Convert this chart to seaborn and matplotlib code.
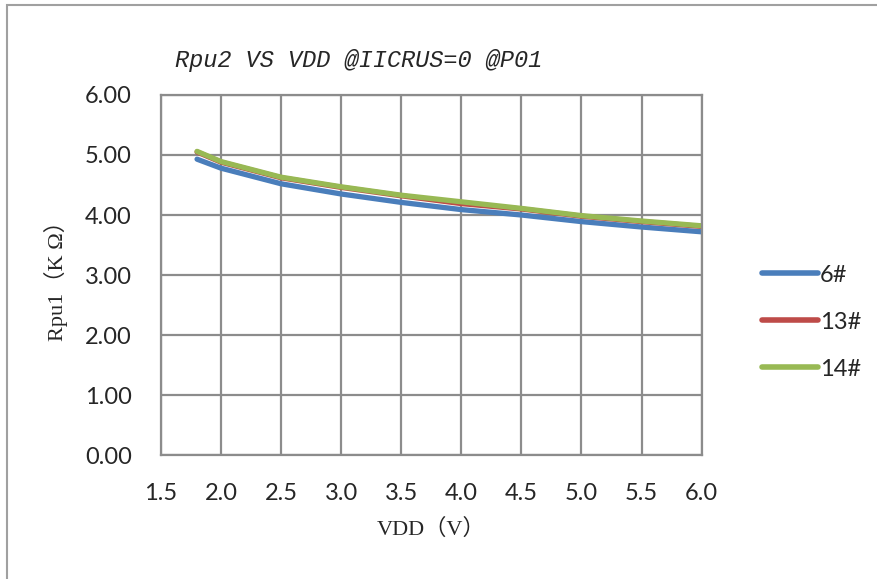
import matplotlib
matplotlib.use("Agg")
import matplotlib.pyplot as plt
import seaborn as sns
import pandas as pd

vdd = [1.8, 2.0, 2.5, 3.0, 3.5, 4.0, 4.5, 5.0, 5.5, 6.0]
r6 = [4.93, 4.78, 4.52, 4.35, 4.21, 4.09, 4.00, 3.89, 3.80, 3.72]
r13 = [5.05, 4.88, 4.62, 4.46, 4.32, 4.19, 4.10, 3.98, 3.89, 3.81]
r14 = [5.06, 4.89, 4.63, 4.47, 4.33, 4.22, 4.11, 3.99, 3.90, 3.82]
series_names = ["6#", "13#", "14#"]
colors = ["#4a7ebb", "#be4b48", "#98b954"]
x_ticks = [1.5, 2.0, 2.5, 3.0, 3.5, 4.0, 4.5, 5.0, 5.5, 6.0]
y_ticks = [0, 1, 2, 3, 4, 5, 6]

rows = []
for name, vals in zip(series_names, [r6, r13, r14]):
    for x, y in zip(vdd, vals):
        rows.append({"VDD": x, "R": y, "series": name})
df = pd.DataFrame(rows)

sns.set_style("white")
plt.rcParams['font.family'] = ['Lato', 'DejaVu Sans']

fig = plt.figure(figsize=(8.77, 5.79), dpi=100)
ax = fig.add_axes([0.1836, 0.214, 0.6164, 0.622])

sns.lineplot(data=df, x="VDD", y="R", hue="series", hue_order=series_names,
             palette=colors, linewidth=3.8, ax=ax, legend=True,
             solid_capstyle="round")

ax.set_xlim(1.5, 6.0)
ax.set_ylim(0, 6)
ax.set_xticks(x_ticks)
ax.set_xticklabels([f"{v:.1f}" for v in x_ticks])
ax.set_yticks(y_ticks)
ax.set_yticklabels([f"{v:.2f}" for v in y_ticks])
ax.tick_params(axis="both", labelsize=17, length=0)
ax.tick_params(axis="x", pad=20)
ax.tick_params(axis="y", pad=21)
ax.grid(True, color="#8c8c8c", linewidth=1.6)
for s in ax.spines.values():
    s.set_color("#8c8c8c")
    s.set_linewidth(1.6)

ax.set_xlabel("VDD（V）", fontsize=16, family=["Liberation Serif", "Noto Sans CJK SC"])
ax.xaxis.set_label_coords(0.5, -0.178)
ax.set_ylabel("Rpu1（K Ω）", fontsize=16, family=["Liberation Serif", "Noto Sans CJK SC"])
ax.yaxis.set_label_coords(-0.172, 0.5)

fig.text(0.20, 0.896, "Rpu2 VS VDD @IICRUS=0 @P01", fontsize=17,
         style="italic", family=["Liberation Mono"], ha="left", va="center")

leg = ax.legend(loc="center left", bbox_to_anchor=(1.111, 0.369), frameon=False,
                fontsize=17, handlelength=2.37, labelspacing=1.1, handletextpad=0.1,
                borderpad=0, borderaxespad=0)
for line in leg.get_lines():
    line.set_linewidth(4.0)

# outer chart frame
fig.patches.append(plt.Rectangle((0.008, -0.05), 1.2, 1.041, transform=fig.transFigure,
                                 fill=False, edgecolor="#a0a0a0", linewidth=1.5))

fig.savefig("out.png", dpi=100)
